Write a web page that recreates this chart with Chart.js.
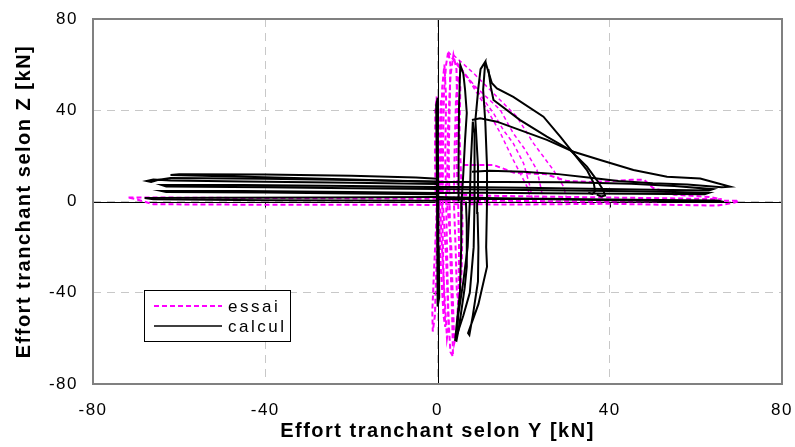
<!DOCTYPE html>
<html>
<head>
<meta charset="utf-8">
<script src="https://cdn.jsdelivr.net/npm/chart.js@4.4.1/dist/chart.umd.min.js"></script>
<style>
  html, body { margin: 0; padding: 0; background: #fff; }
  #wrap { width: 795px; height: 447px; }
</style>
</head>
<body>
<div id="wrap"><canvas id="chart" width="795" height="447"></canvas></div>
<script>
// Séries et axes
const seriesNames = ['essai', 'calcul'];
const axisTicks = [-80, -40, 0, 40, 80];
const xTitle = 'Effort tranchant selon Y [kN]';
const yTitle = 'Effort tranchant selon Z [kN]';

// Essai : boucles [effort Y, effort Z] en kN
const essaiH1 = [[0,1.2],[-25,1.4],[-50,1.6],[-72,1.8],[-70,1.0],[-66,-1.2],[-45,-1.4],[-20,-1.4],[0,-1.5]];
const essaiH2 = [[0,-1.2],[20,-1.3],[40,-1.0],[55,-1.5],[65,-1.8],[69,-0.5],[70,0.3],[55,0.2],[35,0.0],[15,0.3],[0,0.5]];
const essaiH3 = [[6,16],[13,16],[18,12.5],[25,12],[30,9],[36,8.5],[45,9.5],[48,9.5],[50,6],[55,3],[63,2],[66,1],[50,1.5],[30,2],[12,2.5],[5,3]];
const essaiV1 = [[-0.4,0],[-0.6,20],[-0.5,40],[-0.2,46],[0,30],[-0.1,10],[-0.3,-10],[-0.8,-30],[-1.2,-48],[-1.1,-57],[-0.6,-50],[-0.2,-25],[-0.1,0]];
const essaiV2 = [[1.2,0],[1.3,25],[1.5,48],[2,60],[2.5,65.7],[3,60],[2.8,40],[2.6,20],[2.8,0],[3,-25],[3.4,-50],[3.6,-68],[3,-66],[2.5,-50],[2,-25],[1.4,-5],[1.2,0]];
const essaiV3 = [[2.2,0],[2.4,30],[3,55],[3.7,64.2],[4.4,58],[4.6,40],[4.4,20],[4.8,0],[5,-20],[4.9,-40],[4.4,-58],[3.9,-62],[3.6,-45],[3.2,-20],[2.2,0]];
const essaiV4 = [[0.6,0],[0.8,25],[1.1,50],[1.6,60],[2,45],[1.8,20],[2,0],[2.3,-30],[2.6,-55],[2.2,-60],[1.6,-40],[0.9,-15],[0.6,0]];
const essaiV5 = [[3.8,0],[4,25],[4.3,45],[4.8,55],[5.3,50],[5.1,30],[5.5,10],[5.8,-10],[5.6,-30],[5,-45],[4.5,-40],[4.2,-20],[3.8,0]];
const essaiV6 = [[0.3,0],[0.5,15],[0.6,35],[0.8,45],[1,30],[1,10],[1.2,-15],[1.5,-40],[1.8,-55],[1.4,-50],[0.8,-30],[0.3,0]];
const essaiD1 = [[2.5,65.7],[5.3,59],[9.1,48.9],[13,38.7],[15.3,31.3],[17.6,25.5],[20,16.7],[21.5,6.5],[22,1]];
const essaiD2 = [[3.7,64.2],[8.4,56.2],[13.8,45.9],[18.4,37.2],[22.3,25.5],[26.9,13.8],[29.3,6.5],[30,1]];
const essaiD3 = [[3.3,63],[7,54],[10.7,43],[14.6,30],[17.6,18.2],[20.8,6.5],[21.5,2]];
const essaiD4 = [[4.5,60],[9,50],[14.6,40.1],[17.6,29.9],[20.4,22.6],[23.1,13.8],[24,6],[24.5,1]];

// Calcul : boucles [effort Y, effort Z] en kN
const calculH1 = [[0,8.5],[-20,9.6],[-40,10.6],[-62,11.6],[-60,11.9],[-40,11.8],[-20,11.3],[-5,10.5],[0,10]];
const calculH2 = [[0,7.7],[-20,8.2],[-45,8.8],[-62,9.2],[-66,9.6],[-67.5,9],[-66.5,8.6],[-65,9.4],[-62,10.3],[-40,10],[-20,9.4],[0,8.8]];
const calculH3 = [[0,6.4],[-20,6.8],[-45,7.2],[-64,7.2],[-63,6.6],[-40,6.3],[-20,5.8],[0,5.5]];
const calculH4 = [[0,3.7],[-20,4.2],[-45,4.6],[-64,4.6],[-63,4.2],[-40,3.9],[-20,3.5],[0,3.2]];
const calculH5 = [[0,2],[-25,1.8],[-50,1.6],[-68,1.5],[-66,1.0],[-40,0.6],[-20,0.4],[0,0.3]];
const calculH6 = [[0,8.5],[15,8.6],[30,8.4],[45,7.8],[55,6.8],[64,5.4],[63,4.8],[50,5.2],[35,5.6],[20,6],[5,6.4],[0,6.4]];
const calculH7 = [[0,5.5],[15,5.2],[30,4.8],[45,4.5],[55,4.2],[63,3.8],[62,3.2],[45,3.4],[25,3.6],[10,3.8],[0,3.7]];
const calculH8 = [[0,2],[20,1.2],[40,0.5],[60,0],[66.5,-0.2],[65,0.4],[45,0.8],[25,1.2],[0,1]];
const calculV0 = [[0.2,0],[0.1,20],[0,38],[0.1,45.5],[-0.3,42],[-0.2,20],[-0.1,0],[0,-20],[0,-38],[0.1,-46],[0.4,-42],[0.3,-20],[0.2,0]];
const calculV1 = [[4.9,0],[4.9,20],[5,42],[5.3,59.8],[6,56],[6.4,49],[6.8,38.8],[6.4,27],[6,12.5],[5.6,0],[5.5,-20],[5.2,-40],[4.1,-60.7],[4.4,-61],[5,-55],[6.3,-38],[6.8,-28.6],[6.8,-10],[6.6,0]];
const calculV2 = [[9.2,0],[9.4,15.6],[8.8,35.7],[9.5,50],[10,58],[11.1,61.3],[10.6,49],[11.1,34.8],[11.5,15.3],[11.5,0],[11.3,-20],[11.5,-28.6],[9.5,-45],[7.1,-57.7],[7.4,-58.5],[8.2,-50],[9.4,-35],[9.5,-20],[9.3,-5],[9.2,0]];
const calculV3 = [[7.5,0],[7.7,15.6],[8,27],[8.2,35],[8.6,30],[8.5,15],[8.7,0],[8.4,-20],[7.5,-40],[6,-50],[4.6,-58],[4.8,-50],[6,-35],[7,-20],[7.5,0]];
const calculD1 = [[11.1,61.3],[11.8,57],[12.6,52],[13.8,49.6],[17.6,45.9],[24.6,37.2],[28.5,28.4],[31.6,21.1],[34.7,13.8],[36.3,8],[36.6,4.5],[36,3.3],[35,3.8]];
const calculD2 = [[11.8,58],[12.4,50],[13,44.5],[19.2,35.7],[25.4,28.4],[30.8,22.6],[34.7,15.3],[37,9.4],[38.5,5],[38.9,2.6],[38,2.2],[37,3]];
const calculD3 = [[8,35.7],[9.9,36.5],[13.8,35],[19.2,31.3],[25.4,27],[31.6,21.8],[37.8,18.2],[45.5,13.8],[53.3,10.9],[61,10.1],[68,6.5],[66,6.2],[58,7.5],[50,8],[42,9],[35,10.5],[28,12],[20,13],[12,13.5],[8,13]];

const essaiLoops = [essaiH1, essaiH2, essaiH3, essaiV1, essaiV2, essaiV3, essaiV4, essaiV5, essaiV6];
const essaiDiag = [essaiD1, essaiD2, essaiD3, essaiD4];
const calculLoops = [calculH1, calculH2, calculH3, calculH4, calculH5, calculH6, calculH7, calculH8,
  calculV0, calculV1, calculV2, calculV3, calculD1, calculD2, calculD3];

const toPoints = loop => loop.map(([y, z]) => ({ x: y, y: z }));

const datasets = [
  ...calculLoops.map(l => ({ label: seriesNames[1], data: toPoints(l), borderColor: '#000000', borderWidth: 2 })),
  ...essaiLoops.map(l => ({ label: seriesNames[0], data: toPoints(l), borderColor: '#FF00FF', borderWidth: 2, borderDash: [5, 3] })),
  ...essaiDiag.map(l => ({ label: seriesNames[0], data: toPoints(l), borderColor: '#FF00FF', borderWidth: 1.5, borderDash: [4, 3] }))
];

// axes du zéro, graduations et cadre
const axesPlugin = {
  id: 'axesZero',
  beforeUpdate(chart) {
    chart.ctx.letterSpacing = '1.5px';
  },
  beforeDatasetsDraw(chart) {
    const { ctx, chartArea: a, scales: { x, y } } = chart;
    const x0 = Math.round(x.getPixelForValue(0)) + 0.5;
    const y0 = Math.round(y.getPixelForValue(0)) + 0.5;
    ctx.save();
    ctx.strokeStyle = '#000';
    ctx.lineWidth = 1;
    ctx.beginPath();
    ctx.moveTo(x0, a.top); ctx.lineTo(x0, a.bottom);
    ctx.moveTo(a.left, y0); ctx.lineTo(a.right, y0);
    axisTicks.forEach(v => {
      const py = Math.round(y.getPixelForValue(v)) + 0.5;
      ctx.moveTo(x0 - 5, py); ctx.lineTo(x0, py);
      const px = Math.round(x.getPixelForValue(v)) + 0.5;
      ctx.moveTo(px, y0); ctx.lineTo(px, y0 + 5);
    });
    ctx.stroke();
    ctx.restore();
  },
  afterDatasetsDraw(chart) {
    const { ctx, chartArea: a } = chart;
    ctx.save();
    ctx.strokeStyle = '#808080';
    ctx.lineWidth = 2;
    ctx.strokeRect(a.left, a.top, a.right - a.left, a.bottom - a.top);
    ctx.restore();
  }
};

// légende encadrée dans la zone du graphique
const legendBox = {
  id: 'legendBox',
  afterDraw(chart) {
    const { ctx, chartArea: a } = chart;
    const left = a.left + 51, top = a.top + 271, w = 146, h = 51;
    ctx.save();
    ctx.fillStyle = '#fff';
    ctx.fillRect(left, top, w, h);
    ctx.strokeStyle = '#000';
    ctx.lineWidth = 1;
    ctx.strokeRect(left + 0.5, top + 0.5, w, h);
    const rows = [
      { name: seriesNames[0], color: '#FF00FF', dash: [5, 3], width: 2, y: top + 16 },
      { name: seriesNames[1], color: '#000000', dash: [], width: 1.5, y: top + 36 }
    ];
    rows.forEach(r => {
      ctx.strokeStyle = r.color;
      ctx.lineWidth = r.width;
      ctx.setLineDash(r.dash);
      ctx.beginPath();
      ctx.moveTo(left + 10, r.y);
      ctx.lineTo(left + 78, r.y);
      ctx.stroke();
      ctx.setLineDash([]);
      ctx.fillStyle = '#000';
      ctx.font = '17px "Liberation Sans", Arial, sans-serif';
      ctx.letterSpacing = '2.5px';
      ctx.textBaseline = 'middle';
      ctx.textAlign = 'left';
      ctx.fillText(r.name, left + 84, r.y + 1);
    });
    ctx.restore();
  }
};

const tickFont = { family: '"Liberation Sans", Arial, sans-serif', size: 17 };
const titleFont = { family: '"Liberation Sans", Arial, sans-serif', size: 20, weight: 'bold' };
const gridStyle = { color: '#c8c8c8', lineWidth: 1, drawTicks: false };

new Chart(document.getElementById('chart'), {
  type: 'scatter',
  data: { datasets },
  options: {
    responsive: false,
    animation: false,
    devicePixelRatio: 1,
    layout: { padding: { top: 19, right: 13, left: 0, bottom: 0 } },
    datasets: {
      scatter: { showLine: true, pointRadius: 0, pointHoverRadius: 0, fill: false, tension: 0 }
    },
    plugins: {
      legend: { display: false },
      tooltip: { enabled: false }
    },
    scales: {
      x: {
        type: 'linear', min: -80, max: 80,
        afterBuildTicks: s => { s.ticks = axisTicks.map(v => ({ value: v })); },
        afterFit: s => { s.height = 63; s.paddingLeft = 0; s.paddingRight = 0; },
        ticks: { font: tickFont, color: '#000', padding: 16, maxRotation: 0 },
        grid: gridStyle,
        border: { display: false, dash: [8, 6] },
        title: { display: true, text: xTitle, font: titleFont, color: '#000', padding: { top: 0, bottom: 4 } }
      },
      y: {
        type: 'linear', min: -80, max: 80,
        afterBuildTicks: s => { s.ticks = axisTicks.map(v => ({ value: v })); },
        afterFit: s => { s.width = 93; s.paddingTop = 0; s.paddingBottom = 0; },
        ticks: { font: tickFont, color: '#000', padding: 15 },
        grid: gridStyle,
        border: { display: false, dash: [8, 6] },
        title: { display: true, text: yTitle, font: titleFont, color: '#000', padding: { top: 12, bottom: 0 } }
      }
    }
  },
  plugins: [axesPlugin, legendBox]
});
</script>
</body>
</html>
